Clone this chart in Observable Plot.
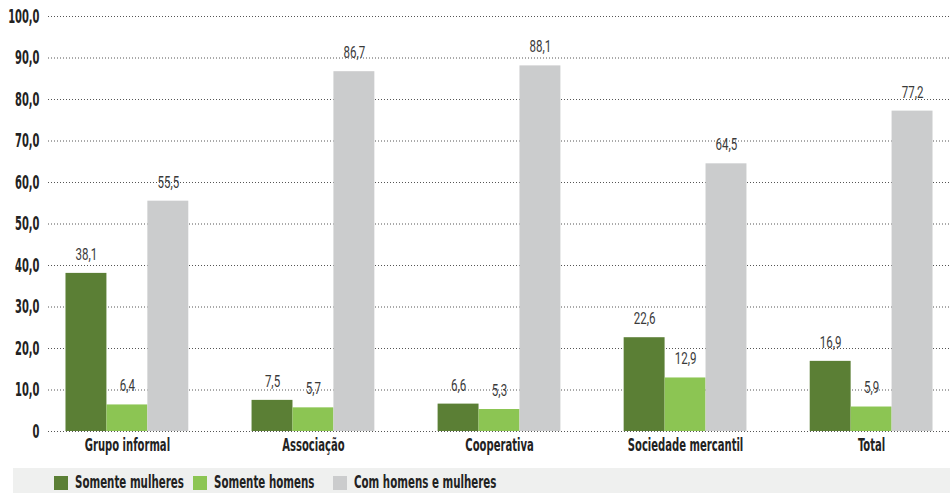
<!DOCTYPE html>
<html>
<head>
<meta charset="utf-8">
<script src="https://cdn.jsdelivr.net/npm/d3@7"></script>
<script src="https://cdn.jsdelivr.net/npm/@observablehq/plot@0.6"></script>
<style>
  html, body { margin: 0; padding: 0; background: #fff; }
  body { width: 950px; height: 493px; overflow: hidden; font-family: "DejaVu Sans Condensed", sans-serif; }
  #chart svg, #legend svg { display: block; }
</style>
</head>
<body>
<div id="chart"></div>
<div id="legend"></div>
<script>
const categories = ["Grupo informal", "Associação", "Cooperativa", "Sociedade mercantil", "Total"];
const series = ["Somente mulheres", "Somente homens", "Com homens e mulheres"];
const somenteMulheres = [38.1, 7.5, 6.6, 22.6, 16.9];
const somenteHomens = [6.4, 5.7, 5.3, 12.9, 5.9];
const comAmbos = [55.5, 86.7, 88.1, 64.5, 77.2];
const yTicks = [0, 10, 20, 30, 40, 50, 60, 70, 80, 90, 100];
const colors = ["#5b7f35", "#8cc553", "#cbcccd"];

const valuesBySeries = [somenteMulheres, somenteHomens, comAmbos];
const seriesData = valuesBySeries.map(vals => categories.map((c, i) => ({cat: c, v: vals[i]})));

const fmt = d => d.toFixed(1).replace(".", ",");
const boldFont = "'DejaVu Sans Condensed', sans-serif";
const lightFont = "Roboto, 'DejaVu Sans Condensed', sans-serif";

const W = 950, H = 465, ML = 48, MR = 0, MT = 16, MB = 34;
const PI = 0.34, PO = 0.094;
const bw = d3.scaleBand().domain(categories).range([ML, W - MR]).paddingInner(PI).paddingOuter(PO).bandwidth();
const third = bw / 3;

const barMarks = seriesData.map((d, j) => Plot.barY(d, {
  x: "cat", y: "v", fill: colors[j],
  insetLeft: j * third, insetRight: (2 - j) * third
}));
const textMarks = seriesData.map((d, j) => Plot.text(d, {
  x: "cat", y: "v", text: r => fmt(r.v),
  dx: (j - 1) * third, dy: -19, fontSize: 17, fontWeight: 400, fontFamily: lightFont, fill: "#3a3a3a",
  className: "vlabel"
}));

const chart = Plot.plot({
  width: W,
  height: H,
  marginLeft: ML,
  marginRight: MR,
  marginTop: MT,
  marginBottom: MB,
  style: {fontFamily: boldFont, fontSize: "15px", background: "#fff", color: "#222", overflow: "visible"},
  x: {domain: categories, paddingInner: PI, paddingOuter: PO, round: false, label: null, axis: null},
  y: {domain: [0, 100], axis: null},
  marks: [
    Plot.ruleY(yTicks, {stroke: "#555", strokeDasharray: "1,2", strokeWidth: 1}),
    Plot.axisY(yTicks, {tickSize: 0, tickPadding: 9, tickFormat: d => d === 0 ? "0" : fmt(d), fontWeight: "bold", fontSize: 19, label: null, className: "ylabel"}),
    ...barMarks,
    ...textMarks,
    Plot.axisX({tickSize: 0, tickPadding: 7, fontWeight: "bold", fontSize: 18, label: null, className: "xlabel"})
  ]
});
document.getElementById("chart").appendChild(chart);

// horizontally condense text glyphs around their anchor points
function condense(root, selector, s) {
  root.querySelectorAll(selector).forEach(t => {
    const tr = t.getAttribute("transform") || "";
    const x = t.getAttribute("x"), y = t.getAttribute("y");
    if (x != null || y != null) {
      const px = +x || 0, py = +y || 0;
      t.setAttribute("transform", `${tr} translate(${px},${py}) scale(${s},1) translate(${-px},${-py})`);
    } else {
      t.setAttribute("transform", `${tr} scale(${s},1)`);
    }
  });
}
condense(chart, "g[aria-label='y-axis tick label'] text", 0.58);
condense(chart, "g[aria-label='x-axis tick label'] text", 0.62);
condense(chart, ".vlabel text", 0.68);

// legend below the chart
const swatchX = [54, 193, 333];
const lg = d3.select("#legend").append("svg").attr("width", W).attr("height", 28);
lg.append("rect").attr("x", 13).attr("y", 3).attr("width", W - 13).attr("height", 25).attr("fill", "#eff0ef");
const items = lg.selectAll("g.item").data(series).join("g").attr("class", "item")
  .attr("transform", (d, i) => `translate(${swatchX[i]},0)`);
items.append("rect").attr("x", 0).attr("y", 11).attr("width", 14).attr("height", 14).attr("fill", (d, i) => colors[i]);
items.append("text").attr("x", 21).attr("y", 23.5)
  .attr("font-family", boldFont).attr("font-weight", "bold").attr("font-size", 18).attr("fill", "#222")
  .text(d => d);
condense(lg.node(), "text", 0.635);
</script>
</body>
</html>
